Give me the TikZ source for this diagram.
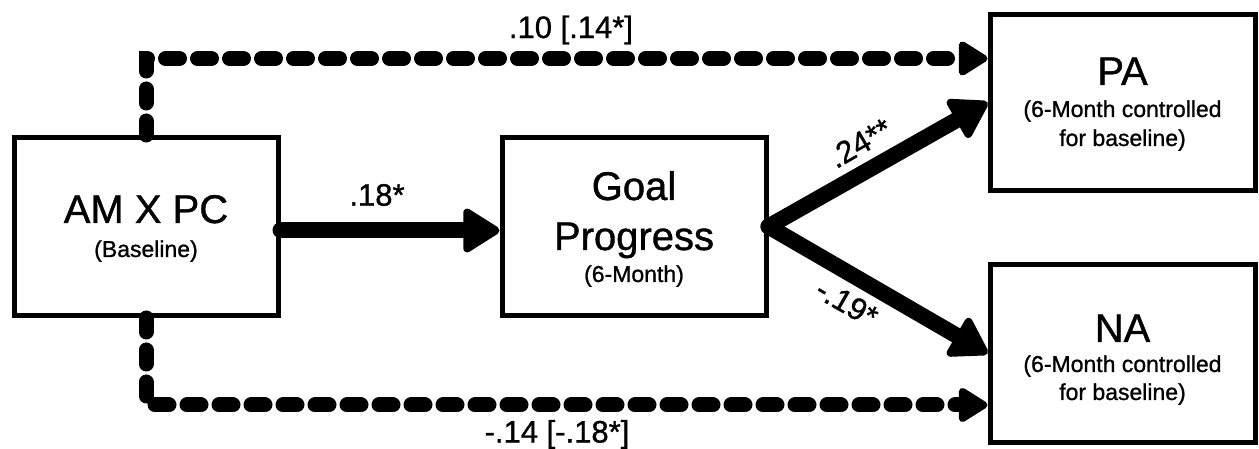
\documentclass[tikz,border=0pt]{standalone}
\usepackage{fontspec}
\setmainfont{Liberation Sans}[FakeBold=1]
\usetikzlibrary{arrows.meta,calc}
\begin{document}
\begin{tikzpicture}[x=1pt,y=1pt,
  box/.style={draw, line width=5pt, minimum width=264pt, minimum height=178pt, inner sep=0pt},
  bigtext/.style={font=\fontsize{40}{40}\selectfont, anchor=base, inner sep=0pt},
  smalltext/.style={font=\fontsize{23}{23}\selectfont, anchor=base, inner sep=0pt},
  coeflabel/.style={font=\fontsize{31}{31}\selectfont, inner sep=0pt},
  strongarrow/.style={line width=16pt, line cap=round,
    -{Triangle[round,length=40pt,width=48pt,line width=8pt]}},
  dasharrow/.style={line width=15pt, line cap=round, dash pattern=on 14pt off 18pt,
    -{Triangle[round,length=32pt,width=38pt,line width=7pt]}},
]
\useasboundingbox (0,0) rectangle (1259,449);

% boxes
\node[box] (amx) at (146,222.5) {};
\node[box] (goal) at (634,222.5) {};
\node[box, minimum width=265pt, minimum height=176pt] (pa) at (1122.5,346.5) {};
\node[box, minimum width=265pt] (na) at (1122.5,95.5) {};

% box texts
\node[bigtext] (amxT) at (146,226) {AM X PC};
\node[smalltext] (amxS) at (146,192) {(Baseline)};
\node[bigtext] (goalT1) at (634,249) {Goal};
\node[bigtext] (goalT2) at (634,199) {Progress};
\node[smalltext] (goalS) at (634,167) {(6-Month)};
\node[bigtext] (paT) at (1122.5,364) {PA};
\node[smalltext] (paS1) at (1122.5,332) {(6-Month controlled};
\node[smalltext] (paS2) at (1122.5,303) {for baseline)};
\node[bigtext] (naT) at (1122.5,107) {NA};
\node[smalltext] (naS1) at (1122.5,77) {(6-Month controlled};
\node[smalltext] (naS2) at (1122.5,49) {for baseline)};

% direct (dashed) paths
\draw[dasharrow] (amx.north) |- ($(pa.west)+(0,44)$);
\draw[dasharrow] (amx.south) |- ($(na.west)+(0,-51.5)$);

% mediated paths
\draw[strongarrow] ([yshift=-4pt]amx.east) -- ([yshift=-4pt]goal.west);
\draw[strongarrow] (goal.east) -- (pa.west);
\draw[strongarrow] (goal.east) -- (na.west);

% coefficients
\node[coeflabel] (c1) at (377,254) {.18*};
\node[coeflabel] (c2) at (571,419) {.10 [.14*]};
\node[coeflabel] (c3) at (557,14.5) {-.14 [-.18*]};
\node[coeflabel, rotate=30] (c4) at (860,306) {.24**};
\node[coeflabel, rotate=-30] (c5) at (847,146) {-.19*};
\end{tikzpicture}
\end{document}
